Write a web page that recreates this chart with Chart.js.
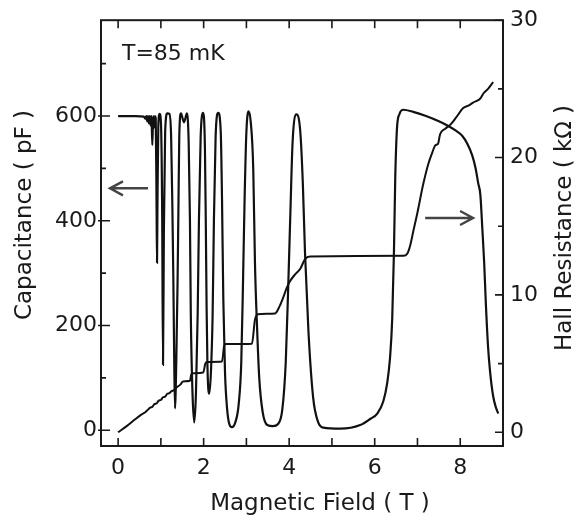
<!DOCTYPE html>
<html>
<head>
<meta charset="utf-8">
<script src="https://cdn.jsdelivr.net/npm/chart.js@4.4.0/dist/chart.umd.min.js"></script>
<style>
  html, body { margin: 0; padding: 0; background: #fff; }
  canvas { display: block; }
</style>
</head>
<body>
<canvas id="mycanvas" width="585" height="516"></canvas>
<script>
// capacitance trace: field (T) / capacitance (pF)
var capField = [
  0.00, 0.40, 0.60, 0.64, 0.66, 0.68, 0.70, 0.72, 0.74, 0.76, 0.78, 0.80, 0.82, 0.84, 0.86, 0.88,
  0.90, 0.91, 0.92, 0.94, 0.97, 1.00, 1.03, 1.05, 1.07, 1.10, 1.15, 1.20, 1.24, 1.27, 1.29, 1.31,
  1.33, 1.36, 1.39, 1.41, 1.43, 1.47, 1.54, 1.61, 1.65, 1.68, 1.70, 1.74, 1.78, 1.82, 1.86, 1.89,
  1.93, 1.99, 2.03, 2.05, 2.07, 2.09, 2.13, 2.17, 2.21, 2.24, 2.28, 2.34, 2.40, 2.43, 2.46, 2.50,
  2.55, 2.60, 2.66, 2.74, 2.82, 2.88, 2.92, 2.96, 3.00, 3.05, 3.10, 3.16, 3.20, 3.25, 3.30, 3.38,
  3.49, 3.62, 3.74, 3.84, 3.92, 3.98, 4.03, 4.08, 4.17, 4.26, 4.32, 4.37, 4.45, 4.56, 4.68, 4.80,
  5.20, 5.66, 5.90, 6.06, 6.20, 6.29, 6.36, 6.41, 6.45, 6.48, 6.52, 6.58, 6.67, 6.90, 7.20, 7.50,
  7.70, 7.90, 8.05, 8.16, 8.28, 8.36, 8.42, 8.47, 8.52, 8.56, 8.60, 8.65, 8.70, 8.77, 8.84, 8.89
];
var capValues = [
  600, 600, 599, 595, 600, 590, 600, 586, 600, 582, 600, 545, 600, 578, 600, 596,
  420, 320, 430, 580, 604, 590, 420, 125, 380, 570, 605, 604, 560, 420, 300, 150,
  42, 130, 280, 420, 560, 605, 588, 605, 550, 400, 220, 70, 15, 70, 220, 400,
  560, 606, 540, 400, 230, 120, 70, 110, 220, 400, 560, 606, 570, 440, 250, 110,
  40, 12, 6, 15, 50, 130, 280, 450, 570, 609, 590, 500, 320, 195, 100, 35,
  10, 8, 12, 40, 130, 280, 420, 550, 603, 570, 470, 340, 190, 63, 15, 5,
  3, 10, 22, 32, 55, 89, 140, 214, 340, 480, 575, 604, 612, 608, 600, 590,
  582, 572, 562, 548, 525, 500, 472, 450, 380, 320, 240, 160, 110, 65, 42, 32
];

// Hall resistance trace: field (T) / resistance (kOhm)
var hallField = [
  0.00, 0.20, 0.40, 0.55, 0.65, 0.70, 0.75, 0.80, 0.85, 0.90, 0.95, 1.00, 1.05, 1.10, 1.15, 1.20,
  1.25, 1.30, 1.38, 1.45, 1.52, 1.68, 1.71, 1.75, 1.99, 2.04, 2.08, 2.43, 2.48, 2.52, 3.13, 3.20,
  3.27, 3.67, 3.78, 3.86, 3.94, 4.02, 4.14, 4.26, 4.37, 4.49, 6.67, 6.76, 6.83, 6.90, 7.00, 7.13,
  7.25, 7.35, 7.42, 7.48, 7.53, 7.65, 7.77, 7.90, 8.07, 8.20, 8.30, 8.47, 8.55, 8.65, 8.77
];
var hallValues = [
  0.0, 0.45, 0.95, 1.3, 1.5, 1.65, 1.8, 1.85, 2.05, 2.1, 2.3, 2.35, 2.55, 2.6, 2.8, 2.85,
  3.0, 3.05, 3.3, 3.45, 3.7, 3.75, 4.2, 4.3, 4.35, 5.0, 5.12, 5.15, 6.3, 6.42, 6.45, 8.2,
  8.6, 8.65, 9.2, 9.8, 10.5, 11.0, 11.5, 11.9, 12.6, 12.8, 12.85, 13.0, 13.6, 14.6, 16.0, 18.0,
  19.5, 20.4, 20.9, 21.0, 21.7, 22.1, 22.4, 22.9, 23.6, 23.8, 24.0, 24.3, 24.7, 25.0, 25.5
];

var fieldTicks = [0, 2, 4, 6, 8];
var fieldMinor = [0, 1, 2, 3, 4, 5, 6, 7, 8];
var capTicks = [0, 200, 400, 600];
var capMinor = [0, 100, 200, 300, 400, 500, 600, 700];
var hallTicks = [0, 10, 20, 30];
var hallMinor = [0, 5, 10, 15, 20, 25, 30];

var ink = '#1a1a1a';
var fontName = "'DejaVu Sans', sans-serif";

function zip(xs, ys) {
  var out = [];
  for (var i = 0; i < xs.length; i++) out.push({ x: xs[i], y: ys[i] });
  return out;
}

function setTicks(list) {
  return function(scale) {
    scale.ticks = list.map(function(v) { return { value: v }; });
  };
}

// frame, inward ticks, arrows and titles
var decorations = {
  id: 'decorations',
  afterDraw: function(chart) {
    var ctx = chart.ctx;
    var a = chart.chartArea;
    var sx = chart.scales.x, sc = chart.scales.y, sh = chart.scales.y1;
    ctx.save();
    ctx.strokeStyle = ink;
    ctx.lineWidth = 2;
    ctx.strokeRect(a.left, a.top, a.right - a.left, a.bottom - a.top);

    ctx.lineWidth = 1.6;
    ctx.beginPath();
    fieldMinor.forEach(function(v) {
      var px = sx.getPixelForValue(v);
      ctx.moveTo(px, a.bottom); ctx.lineTo(px, a.bottom - 8);
      ctx.moveTo(px, a.top); ctx.lineTo(px, a.top + 8);
    });
    capMinor.forEach(function(v) {
      var py = sc.getPixelForValue(v);
      var major = capTicks.indexOf(v) >= 0;
      ctx.moveTo(a.left - (major ? 3 : 0), py); ctx.lineTo(a.left + (major ? 9 : 5), py);
    });
    hallMinor.forEach(function(v) {
      var py = sh.getPixelForValue(v);
      var major = hallTicks.indexOf(v) >= 0;
      ctx.moveTo(a.right, py); ctx.lineTo(a.right - (major ? 8 : 5), py);
    });
    ctx.stroke();

    // arrows pointing at each trace's axis
    function arrow(x0, x1, y) {
      var dir = x1 > x0 ? 1 : -1;
      ctx.beginPath();
      ctx.moveTo(x0, y); ctx.lineTo(x1, y);
      ctx.moveTo(x1 - dir * 13, y - 7); ctx.lineTo(x1, y); ctx.lineTo(x1 - dir * 13, y + 7);
      ctx.stroke();
    }
    ctx.strokeStyle = '#444';
    ctx.lineWidth = 2.4;
    arrow(sx.getPixelForValue(0.70), sx.getPixelForValue(-0.19), sc.getPixelForValue(462));
    arrow(sx.getPixelForValue(7.18), sx.getPixelForValue(8.30), sh.getPixelForValue(15.6));

    ctx.fillStyle = ink;
    ctx.font = '22px ' + fontName;
    ctx.textAlign = 'left';
    ctx.textBaseline = 'alphabetic';
    ctx.fillText('T=85 mK', a.left + 21, a.top + 40);

    ctx.font = '23px ' + fontName;
    ctx.textAlign = 'center';
    ctx.fillText('Magnetic Field ( T )', 320, 510);

    ctx.save();
    ctx.translate(31, 215);
    ctx.rotate(-Math.PI / 2);
    ctx.fillText('Capacitance ( pF )', 0, 0);
    ctx.restore();

    ctx.save();
    ctx.translate(571, 228);
    ctx.rotate(-Math.PI / 2);
    ctx.fillText('Hall Resistance ( k\u03A9 )', 0, 0);
    ctx.restore();

    ctx.restore();
  }
};

var tickFont = { family: fontName, size: 22 };

var ctx = document.getElementById('mycanvas');
var chart = new Chart(ctx, {
  type: 'line',
  data: {
    datasets: [
      {
        label: 'Capacitance',
        data: zip(capField, capValues),
        yAxisID: 'y',
        borderColor: '#111',
        borderWidth: 2.2,
        pointRadius: 0,
        fill: false,
        cubicInterpolationMode: 'monotone'
      },
      {
        label: 'Hall Resistance',
        data: zip(hallField, hallValues),
        yAxisID: 'y1',
        borderColor: '#111',
        borderWidth: 2,
        pointRadius: 0,
        fill: false,
        cubicInterpolationMode: 'monotone'
      }
    ]
  },
  options: {
    responsive: false,
    animation: false,
    layout: { padding: { top: 17, left: 0, right: 0, bottom: 0 } },
    plugins: {
      legend: { display: false },
      tooltip: { enabled: false }
    },
    scales: {
      x: {
        type: 'linear',
        min: -0.4,
        max: 9.0,
        grid: { display: false, drawTicks: false },
        border: { display: false },
        afterBuildTicks: setTicks(fieldTicks),
        afterFit: function(s) { s.height = 70; },
        ticks: { padding: 9, font: tickFont, color: ink, maxRotation: 0 }
      },
      y: {
        position: 'left',
        min: -30,
        max: 783,
        grid: { display: false, drawTicks: false },
        border: { display: false },
        afterBuildTicks: setTicks(capTicks),
        afterFit: function(s) { s.width = 101; },
        ticks: { padding: 4, font: tickFont, color: ink }
      },
      y1: {
        position: 'right',
        min: -1,
        max: 30,
        grid: { display: false, drawTicks: false },
        border: { display: false },
        afterBuildTicks: setTicks(hallTicks),
        afterFit: function(s) { s.width = 82; },
        ticks: { padding: 7, font: tickFont, color: ink }
      }
    }
  },
  plugins: [decorations]
});
</script>
</body>
</html>
